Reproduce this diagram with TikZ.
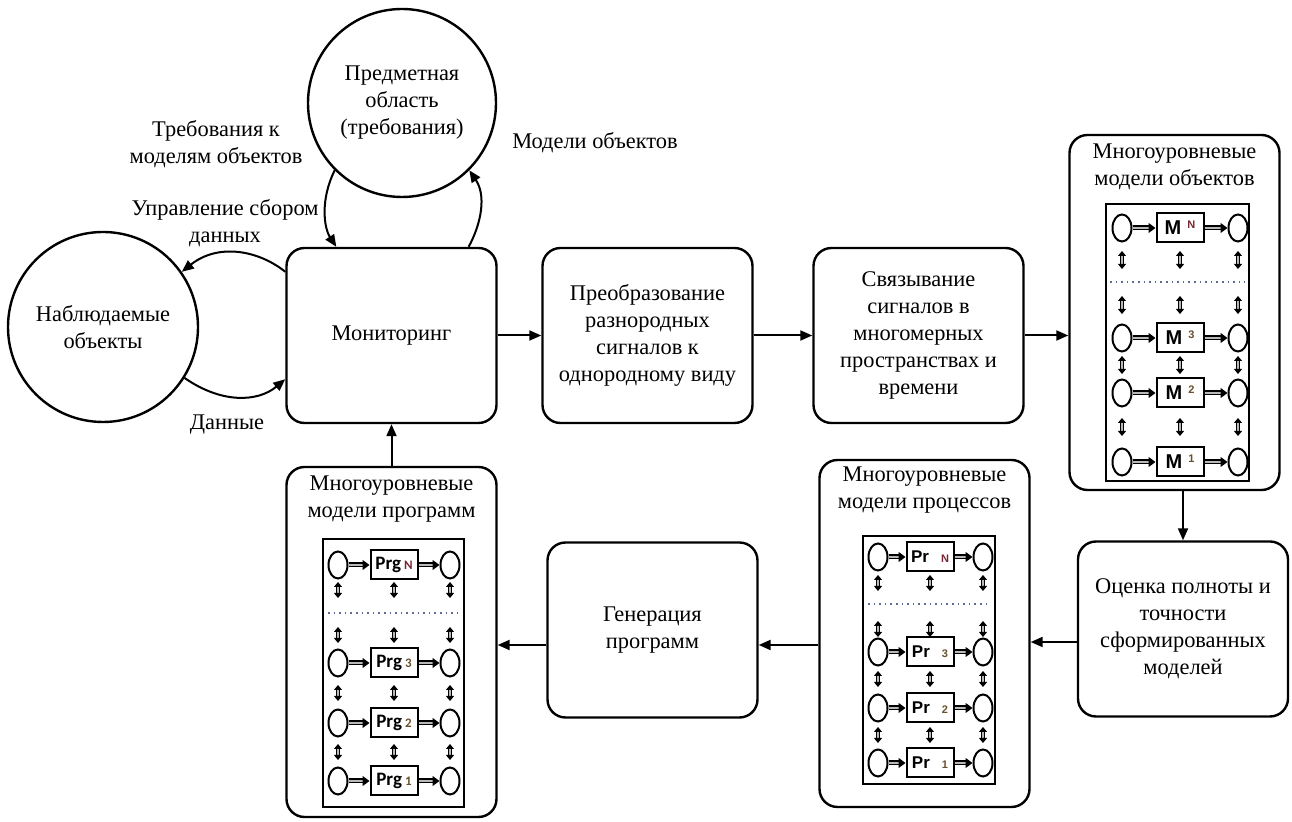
\documentclass[tikz,border=0pt]{standalone}
\usepackage{fontspec}
\setmainfont{Liberation Serif}
\newfontfamily\lvlsans{Liberation Sans}
\newfontfamily\lvlcal{Carlito}
\usetikzlibrary{arrows.meta,shapes.geometric}
\definecolor{idxred}{RGB}{120,40,50}
\definecolor{idxbrown}{RGB}{105,80,45}
\definecolor{dotblue}{RGB}{95,105,150}

% one level of a model panel: ellipse => box => ellipse
\newcommand{\lvlrow}[6]{%
  \node[lvlell] (#1a) at (#2,#5) {};
  \node[lvlbox] (#1b) at (#3,#5) {#6};
  \node[lvlell] (#1c) at (#4,#5) {};
  \draw[dblarr] (#1a) -- (#1b);
  \draw[dblarr] (#1b) -- (#1c);
}
\newcommand{\mlab}[1]{{\lvlsans\bfseries\fontsize{10}{10}\selectfont M}\hspace{3pt}\raisebox{3pt}{\lvlsans\bfseries\fontsize{5.5}{5.5}\selectfont #1}}
\newcommand{\prlab}[1]{{\lvlsans\bfseries\fontsize{8.5}{8.5}\selectfont Pr}\hspace{6pt}{\lvlsans\bfseries\fontsize{5.5}{5.5}\selectfont #1}}
\newcommand{\prglab}[1]{{\lvlcal\bfseries\fontsize{9.5}{9.5}\selectfont Prg}\hspace{1.5pt}{\lvlcal\bfseries\fontsize{6.5}{6.5}\selectfont #1}}

\begin{document}
\begin{tikzpicture}[x=0.5pt,y=-0.5pt,
  every node/.style={font=\fontsize{11.2}{13.5}\selectfont},
  procbox/.style={draw,line width=1.2pt,rounded corners=9pt,minimum width=105pt,minimum height=87.5pt,align=center,inner sep=2pt},
  roundobj/.style={draw,circle,line width=1.2pt,align=center,inner sep=0pt},
  panel/.style={draw,line width=1.2pt,rounded corners=9pt,minimum width=105pt},
  panelin/.style={draw,line width=1pt,inner sep=0pt},
  lbl/.style={align=center,inner sep=0pt},
  arr/.style={line width=1pt,-{Triangle[length=6pt,width=5pt]}},
  lvlell/.style={draw,ellipse,line width=1pt,minimum width=9.5pt,minimum height=13.5pt,inner sep=0pt},
  lvlbox/.style={draw,line width=1pt,minimum width=23.5pt,minimum height=14.5pt,inner sep=0pt},
  dblarr/.style={double=gray!55,double distance=1.3pt,line width=0.6pt,-{Triangle[length=3.5pt,width=5pt]}},
  vdbl/.style={double=gray!55,double distance=1pt,line width=0.5pt,{Triangle[length=2.5pt,width=4pt]}-{Triangle[length=2.5pt,width=4pt]}},
  dotline/.style={dotblue,line width=0.8pt,dotted}]
\useasboundingbox (0,0) rectangle (1292,822);

% main blocks
\node[roundobj,minimum size=94pt] (subject) at (402,103) {Предметная\\область\\(требования)};
\node[roundobj,minimum size=95pt] (observed) at (103,327) {Наблюдаемые\\объекты};
\node[procbox] (monitor) at (391.5,335.5) {Мониторинг};
\node[procbox] (convert) at (647.5,335.5) {Преобразование\\разнородных\\сигналов к\\однородному виду};
\node[procbox] (bind) at (918.5,335.5) {Связывание\\сигналов в\\многомерных\\пространствах и\\времени};
\node[procbox] (eval) at (1183,629) {Оценка полноты и\\точности\\сформированных\\моделей};
\node[procbox] (gen) at (652.5,630) {Генерация\\программ};

\node[panel,minimum height=177.5pt] (objmodels) at (1174.5,312.5) {};
\node[lbl,anchor=north] (objtitle) at ([yshift=-5pt]objmodels.north) {Многоуровневые\\модели объектов};
\node[panel,minimum height=173.5pt] (procmodels) at (924.5,633.5) {};
\node[lbl,anchor=north] (proctitle) at ([yshift=-4pt]procmodels.north) {Многоуровневые\\модели процессов};
\node[panel,minimum height=175pt] (prgmodels) at (391.5,642) {};
\node[lbl,anchor=north] (prgtitle) at ([yshift=-5pt]prgmodels.north) {Многоуровневые\\модели программ};

% labels
\node[lbl] (reqlbl) at (216,144) {Требования к\\моделям объектов};
\node[lbl] (ctrllbl) at (225,223) {Управление сбором\\данных};
\node[lbl] (datalbl) at (227,425) {Данные};
\node[lbl] (modlbl) at (595,143) {Модели объектов};

% object models
\node[panelin,minimum width=71.5pt,minimum height=138.5pt] (objin) at (1177.5,342.5) {};
\lvlrow{oN}{1122}{1180}{1238}{228}{\mlab{\color{idxred}N}}
\lvlrow{o3}{1122}{1180}{1238}{338}{\mlab{\color{idxbrown}3}}
\lvlrow{o2}{1122}{1180}{1238}{393}{\mlab{\color{idxbrown}2}}
\lvlrow{o1}{1122}{1180}{1238}{462}{\mlab{\color{idxbrown}1}}
\draw[dotline] (1110,282) -- (1245,282);
\foreach \y in {260,305,365,427}
  \foreach \c in {a,b,c}
    \draw[vdbl] (o1\c |- 0,\y-9) -- (o1\c |- 0,\y+9);

% process models
\node[panelin,minimum width=66pt,minimum height=124pt] (procin) at (929,660) {};
\lvlrow{pN}{878}{930}{983}{557}{\prlab{\color{idxred}N}}
\lvlrow{p3}{878}{930}{983}{652}{\prlab{\color{idxbrown}3}}
\lvlrow{p2}{878}{930}{983}{708}{\prlab{\color{idxbrown}2}}
\lvlrow{p1}{878}{930}{983}{763}{\prlab{\color{idxbrown}1}}
\draw[dotline] (868,604) -- (990,604);
\foreach \y in {583,629,679,735}
  \foreach \c in {a,b,c}
    \draw[vdbl] (p1\c |- 0,\y-8) -- (p1\c |- 0,\y+8);

% program models
\node[panelin,minimum width=70.5pt,minimum height=134pt] (prgin) at (393.5,673) {};
\lvlrow{gN}{338}{394}{450}{565}{\prglab{\color{idxred}N}}
\lvlrow{g3}{338}{394}{450}{663}{\prglab{\color{idxbrown}3}}
\lvlrow{g2}{338}{394}{450}{723}{\prglab{\color{idxbrown}2}}
\lvlrow{g1}{338}{394}{450}{781}{\prglab{\color{idxbrown}1}}
\draw[dotline] (328,613) -- (459,613);
\foreach \y in {590,635,693,752}
  \foreach \c in {a,b,c}
    \draw[vdbl] (g1\c |- 0,\y-8) -- (g1\c |- 0,\y+8);

% connectors
\draw[arr] (subject.225) .. controls (320,200) and (324,228) .. ([xshift=25.5pt]monitor.north west);
\draw[arr] ([xshift=-14.5pt]monitor.north east) .. controls (482,222) and (486,195) .. (subject.315);
\draw[arr] ([yshift=-12.5pt]monitor.north west) .. controls (258,250) and (218,243) .. (observed.35);
\draw[arr] (observed.-32) .. controls (222,404) and (258,402) .. ([yshift=22.5pt]monitor.south west);
\draw[arr] (monitor.east) -- (convert.west);
\draw[arr] (convert.east) -- (bind.west);
\draw[arr] (bind.east) -- (bind.east -| objmodels.west);
\draw[arr] (eval.north |- objmodels.south) -- (eval.north);
\coordinate (evalout) at ([yshift=-6.5pt]eval.west);
\draw[arr] (evalout) -- (evalout -| procmodels.east);
\coordinate (procout) at ([yshift=-5.75pt]procmodels.west);
\draw[arr] (procout) -- (procout -| gen.east);
\coordinate (genout) at ([yshift=-7.5pt]gen.west);
\draw[arr] (genout) -- (genout -| prgmodels.east);
\draw[arr] (prgmodels.north) -- (monitor.south);
\end{tikzpicture}
\end{document}
